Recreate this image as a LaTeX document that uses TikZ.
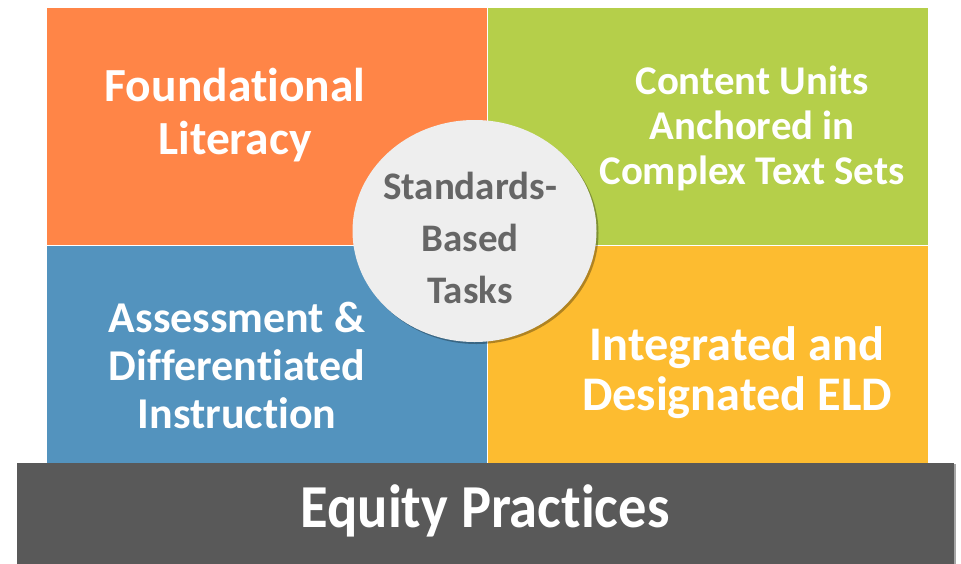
\documentclass[tikz,border=0pt]{standalone}
\usepackage{fontspec}
\usepackage{graphicx}
\setmainfont{Carlito}[Ligatures={NoCommon}]
\usetikzlibrary{shadows,shapes.geometric}
\definecolor{qorange}{HTML}{FF8547}
\definecolor{qgreen}{HTML}{B5CF4A}
\definecolor{qblue}{HTML}{5393BE}
\definecolor{qyellow}{HTML}{FDBC30}
\definecolor{qgray}{HTML}{595959}
\definecolor{qcircle}{HTML}{EEEEEE}
\definecolor{qtext}{HTML}{666666}
\tikzset{
  quad/.style={draw=white, line width=0.8pt},
  qlabel/.style={text=white, font=\bfseries, align=center},
}
\begin{document}
\begin{tikzpicture}[x=1pt,y=-1pt]
\useasboundingbox (0,0) rectangle (961,563);
% quadrants
\fill[qorange, quad] (46,7) rectangle (487,245);
\fill[qgreen, quad] (487,7) rectangle (928,245);
\fill[qblue, quad] (46,245) rectangle (487,463);
\fill[qyellow, quad] (487,245) rectangle (928,463);
% bottom bar
\node[fill=qgray, minimum width=937pt, minimum height=101pt, inner sep=0pt,
  drop shadow={shadow xshift=1.5pt, shadow yshift=-1pt, opacity=0.35, fill=black},
  anchor=north west] (bar) at (17,463) {};
\node[text=white, font=\bfseries\fontsize{56.5}{60}\selectfont] (eq) at (485,511) {\scalebox{1}[1.08]{Equity Practices}};
% labels
\node[qlabel, font=\bfseries\fontsize{47.5}{53}\selectfont] (fl) at (235,115.5) {Foundational\\Literacy};
\node[qlabel, font=\bfseries\fontsize{40.8}{45}\selectfont] (cu) at (752,128) {Content Units\\Anchored in\\Complex Text Sets};
\node[qlabel, font=\bfseries\fontsize{44}{48}\selectfont] (ad) at (237,365.5) {Assessment \&\\Differentiated\\Instruction};
\node[qlabel, font=\bfseries\fontsize{48.3}{50}\selectfont] (ie) at (737,373) {Integrated and\\Designated ELD};
% center ellipse
\node[ellipse, fill=qcircle, minimum width=244pt, minimum height=222pt, inner sep=0pt,
  drop shadow={shadow xshift=2pt, shadow yshift=-2pt, opacity=0.3, fill=black}] (c) at (474.5,231) {};
\node[text=qtext, font=\bfseries\fontsize{39}{52}\selectfont, align=center] (st) at (470,238) {Standards-\\Based\\Tasks};
\end{tikzpicture}
\end{document}
